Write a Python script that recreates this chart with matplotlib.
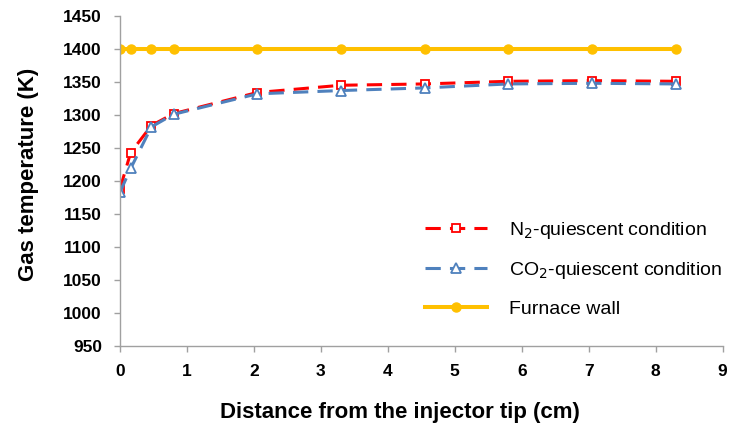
import numpy as np
import matplotlib.pyplot as plt

plt.rcParams['font.family'] = ['Liberation Sans', 'DejaVu Sans']

# distance from injector tip (cm)
dist = [0, 0.16, 0.47, 0.8, 2.05, 3.3, 4.55, 5.8, 7.05, 8.3]
n2_temp = [1188, 1243, 1284, 1302, 1334, 1345, 1347, 1351, 1352, 1351]
co2_temp = [1183, 1219, 1282, 1301, 1332, 1337, 1341, 1347, 1348, 1347]
wall_temp = [1400, 1400, 1400, 1400, 1400, 1400, 1400, 1400, 1400, 1400]

fig = plt.figure(figsize=(7.45, 4.3), dpi=100)
ax = fig.add_axes([0.161, 0.195, 0.809, 0.768])

ax.plot(dist, n2_temp, color='#FF0000', ls=(0, (5, 3)), lw=2.2, marker='s',
        ms=6, mfc='white', mec='#FF0000', mew=1.3, label='N$_2$-quiescent condition')
ax.plot(dist, co2_temp, color='#4F81BD', ls=(0, (5, 3)), lw=2.2, marker='^',
        ms=6.5, mfc='white', mec='#4F81BD', mew=1.3, label='CO$_2$-quiescent condition')
ax.plot(dist, wall_temp, color='#FFC000', lw=2.9, marker='o', ms=6.5,
        label='Furnace wall')

ax.set_xlim(0, 9)
ax.set_ylim(950, 1450)
ax.set_xticks(np.arange(0, 10, 1))
ax.set_yticks(np.arange(950, 1451, 50))

for s in ['top', 'right']:
    ax.spines[s].set_visible(False)
for s in ['left', 'bottom']:
    ax.spines[s].set_color('#A0A0A0')
    ax.spines[s].set_linewidth(1.0)
ax.tick_params(colors='#A0A0A0', length=4, width=1.0, labelcolor='black',
               labelsize=12.5, pad=9)
for t in ax.get_xticklabels() + ax.get_yticklabels():
    t.set_fontweight('bold')

ax.set_xlabel('Distance from the injector tip (cm)', fontsize=16, fontweight='bold')
ax.set_ylabel('Gas temperature (K)', fontsize=16, fontweight='bold')
ax.xaxis.set_label_coords(0.464, -0.17)
ax.yaxis.set_label_coords(-0.135, 0.52)

ax.legend(loc='upper left', bbox_to_anchor=(425 / 745, 0.489), bbox_transform=fig.transFigure,
          frameon=False, fontsize=14, handlelength=3.2, handletextpad=1.1,
          labelspacing=1.0, borderpad=0, borderaxespad=0, numpoints=1)

fig.savefig('out.png', dpi=100)
